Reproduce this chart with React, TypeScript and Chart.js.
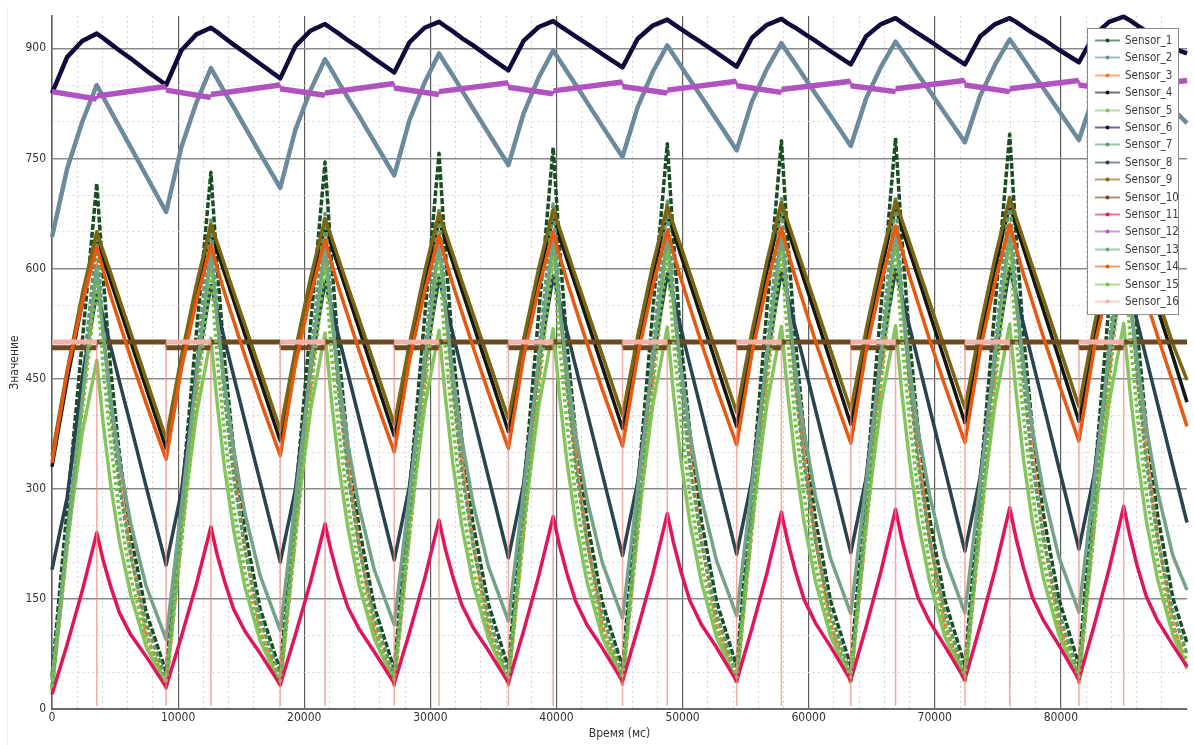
import React, { useEffect, useRef } from 'react';
import { Chart, registerables } from 'chart.js';

Chart.register(...registerables);

// Shared sampling times (ms): trough, 2 rise points, peak, 5 decay points per cycle
const TIME = [
  0, 1200, 2400, 3550, 4050, 4650, 5350, 6250, 7450,
  9050, 10250, 11450, 12600, 13100, 13700, 14400, 15300, 16500,
  18100, 19300, 20500, 21650, 22150, 22750, 23450, 24350, 25550,
  27140, 28340, 29540, 30690, 31190, 31790, 32490, 33390, 34590,
  36190, 37390, 38590, 39740, 40240, 40840, 41540, 42440, 43640,
  45240, 46440, 47640, 48790, 49290, 49890, 50590, 51490, 52690,
  54290, 55490, 56690, 57840, 58340, 58940, 59640, 60540, 61740,
  63340, 64540, 65740, 66890, 67390, 67990, 68690, 69590, 70790,
  72390, 73590, 74790, 75940, 76440, 77040, 77740, 78640, 79840,
  81430, 82630, 83830, 84980, 85480, 86080, 86780, 87680, 88880,
  90000,
];

const S1 = [
  45,273,501,716,590,463,346,236,133,
  50,282,513,731,602,473,354,242,137,
  52,288,523,745,614,482,361,247,140,
  54,293,532,757,624,491,368,252,144,
  56,297,538,765,630,496,372,255,145,
  57,299,542,770,635,499,375,257,147,
  58,301,545,774,638,502,377,258,147,
  58,303,548,778,641,505,379,260,149,
  59,305,551,783,646,508,382,262,150,
  60,307,554,786,648,510,383,263,151,
  90];
const S2 = [
  643,736,800,850,834,815,793,765,727,
  677,765,826,873,858,840,820,793,757,
  710,789,843,885,871,853,833,808,773,
  727,802,853,893,879,863,843,818,785,
  741,811,860,897,884,868,850,826,794,
  752,820,868,904,891,875,857,834,803,
  761,827,872,907,894,879,861,838,808,
  767,831,875,909,897,882,864,842,812,
  772,835,878,912,900,885,867,845,815,
  775,837,880,913,901,886,869,847,817,
  798];
const S3 = [
  25,222,419,605,518,420,322,213,103,
  28,229,431,620,532,431,331,219,107,
  30,233,437,628,539,437,336,223,110,
  32,237,442,635,545,442,340,226,111,
  33,239,446,640,549,446,343,228,113,
  34,242,449,645,554,450,346,230,114,
  35,243,452,648,556,452,348,231,115,
  35,244,453,650,558,454,349,233,116,
  36,245,455,652,560,455,350,233,116,
  36,246,456,654,561,456,351,234,116,
  55];
const S4 = [
  330,448,553,640,614,583,547,500,438,
  355,467,567,650,624,593,557,510,448,
  365,476,576,658,632,601,565,518,455,
  372,483,583,665,639,608,571,524,462,
  378,489,588,670,644,612,576,529,466,
  382,493,593,675,649,617,580,533,469,
  385,497,597,680,653,622,584,537,473,
  388,500,600,683,656,624,587,539,475,
  390,502,603,686,659,627,590,542,478,
  392,505,607,690,663,631,593,545,480,
  418];
const S5 = [
  25,228,376,475,390,306,228,155,86,
  30,244,401,505,416,326,244,166,93,
  34,249,407,512,422,331,248,169,96,
  36,252,410,516,425,334,250,171,97,
  37,253,412,518,427,336,252,172,98,
  38,255,414,520,428,337,253,173,98,
  38,255,415,521,429,338,254,174,99,
  39,256,416,522,430,339,254,174,99,
  39,257,417,524,432,340,255,176,101,
  40,258,418,525,433,341,256,176,101,
  55];
const S6 = [
  839,888,910,920,914,906,897,886,870,
  850,897,919,928,922,914,905,894,879,
  859,903,924,933,927,920,911,901,886,
  867,908,928,936,930,923,914,904,889,
  870,910,929,937,931,924,916,906,892,
  874,913,931,939,933,926,918,908,894,
  875,914,932,940,934,928,920,910,896,
  878,916,933,941,935,928,920,910,896,
  878,916,933,941,936,929,921,912,898,
  881,918,936,943,938,931,923,914,900,
  893];
const S7 = [
  30,237,445,640,520,406,304,208,118,
  40,253,466,666,541,423,317,217,123,
  42,257,472,675,549,429,321,220,125,
  43,260,478,682,554,433,325,223,127,
  44,263,482,688,559,437,328,225,129,
  45,265,485,692,563,440,330,227,130,
  46,267,487,695,565,442,332,228,130,
  46,268,489,698,568,444,333,229,132,
  47,269,491,700,569,445,334,230,132,
  47,270,492,702,571,447,335,230,132,
  75];
const S8 = [
  190,288,451,568,534,494,446,386,304,
  196,295,459,577,543,502,454,392,310,
  200,299,464,582,548,506,458,396,313,
  203,303,468,587,552,511,462,400,317,
  206,306,471,590,555,514,465,403,320,
  209,309,474,593,558,517,468,406,322,
  211,311,477,596,561,519,471,408,325,
  213,313,479,598,563,521,473,410,327,
  215,315,481,600,565,524,475,413,329,
  218,318,483,602,567,526,477,415,331,
  254];
const S9 = [
  345,461,565,650,624,594,558,512,450,
  368,479,578,660,635,604,568,523,462,
  380,489,587,668,643,612,576,531,470,
  388,497,595,675,650,619,583,538,477,
  395,503,600,680,655,624,588,543,482,
  400,508,605,685,659,629,593,547,486,
  404,513,610,690,664,633,597,551,489,
  407,515,612,692,666,636,600,554,492,
  410,519,616,696,670,639,603,557,495,
  412,521,619,700,674,643,606,560,497,
  448];
const S11 = [
  20,88,161,240,203,167,131,101,72,
  30,98,170,248,210,173,136,106,76,
  33,101,173,252,214,176,139,109,78,
  35,104,177,257,218,180,142,111,80,
  36,106,181,262,223,184,146,114,83,
  38,109,184,266,226,186,147,115,84,
  38,109,185,268,228,188,149,117,85,
  39,111,188,272,231,191,151,119,86,
  40,113,190,274,233,192,152,120,87,
  40,113,191,276,235,193,153,120,87,
  58];
const S13 = [
  40,230,421,600,512,423,337,252,168,
  95,274,453,621,531,441,354,266,182,
  107,285,463,630,540,450,362,275,190,
  115,292,469,636,546,455,368,280,195,
  120,297,474,640,550,459,372,284,199,
  124,300,477,643,553,462,375,287,202,
  127,303,480,646,556,465,378,290,205,
  130,306,482,648,558,467,379,291,206,
  131,307,484,650,559,469,381,293,207,
  132,309,486,652,561,471,383,295,209,
  162];
const S14 = [
  335,459,553,630,598,563,526,478,417,
  340,463,556,632,600,566,529,481,421,
  345,469,563,640,608,573,536,488,427,
  350,474,568,645,613,578,541,493,432,
  355,479,573,650,618,583,545,497,435,
  358,481,576,652,620,585,547,499,437,
  360,484,578,655,623,588,550,501,440,
  362,486,581,658,626,590,552,503,441,
  363,488,583,660,628,592,554,505,443,
  365,490,585,662,630,594,556,507,445,
  385];
const S15 = [
  30,217,404,580,466,362,267,179,98,
  35,225,416,595,478,372,275,186,102,
  38,231,424,605,486,379,280,190,105,
  40,234,429,612,492,384,284,192,107,
  41,237,433,618,497,388,287,195,108,
  42,239,436,622,500,390,289,196,110,
  43,241,439,625,503,392,290,197,110,
  43,242,441,628,505,394,292,199,111,
  44,243,442,630,507,396,293,199,111,
  44,244,444,632,509,397,294,200,112,
  65];

// Sensor_12: small saw-tooth with jumps at peaks and troughs
const S12_TIME = [0,3540,3560,9030, 9050,12590,12610,18080, 18100,21640,21660,27120, 27140,30680,30700,36170, 36190,39730,39750,45220, 45240,48780,48800,54270, 54290,57830,57850,63320, 63340,66880,66900,72370, 72390,75930,75950,81410, 81430,84970,84990,90000];
const S12 = [841,831,835,848, 843,833,837,850, 845,836,839,852, 846,837,841,853, 847,838,842,854, 848,839,843,855, 849,840,844,855, 849,841,845,856, 850,841,845,856, 850,842,846,856];

// Sensor_10 and Sensor_16: step signals switching at troughs and peaks
const STEP_TIME = [0, 3550,3550, 9050,9050, 12600,12600, 18100,18100, 21650,21650, 27140,27140, 30690,30690, 36190,36190, 39740,39740, 45240,45240, 48790,48790, 54290,54290, 57840,57840, 63340,63340, 66890,66890, 72390,72390, 75940,75940, 81430,81430, 84980,84980, 90000];
const S10 = [492, 492,500, 500,492, 492,500, 500,492, 492,500, 500,492, 492,500, 500,492, 492,500, 500,492, 492,500, 500,492, 492,500, 500,492, 492,500, 500,492, 492,500, 500,492, 492,500, 500];
const S16 = [500, 500,0, 0,500, 500,0, 0,500, 500,0, 0,500, 500,0, 0,500, 500,0, 0,500, 500,0, 0,500, 500,0, 0,500, 500,0, 0,500, 500,0, 0,500, 500,0, 0];

const LABELS = ['Sensor_1','Sensor_2','Sensor_3','Sensor_4','Sensor_5','Sensor_6','Sensor_7','Sensor_8','Sensor_9','Sensor_10','Sensor_11','Sensor_12','Sensor_13','Sensor_14','Sensor_15','Sensor_16'];
const COLORS = ['#1b4d23','#6b8a9c','#f07a35','#161610','#86c462','#0e0b3c','#5e9a6c','#27444f','#7a6512','#6b4a22','#e0155c','#b052c0','#73a386','#e8590f','#72c240','#f4b0a6'];
const WIDTHS = [3.5, 4.5, 3.5, 3.5, 3.5, 4.5, 3.5, 3.5, 3.5, 5, 3.5, 5.5, 3.5, 3.5, 3.5, 5];
const DASHES = [[6, 2], [], [5, 2], [], [], [], [5, 2], [], [], [], [], [], [], [], [3, 3], []];
const XS = [TIME, TIME, TIME, TIME, TIME, TIME, TIME, TIME, TIME, STEP_TIME, TIME, S12_TIME, TIME, TIME, TIME, STEP_TIME];
const YS = [S1, S2, S3, S4, S5, S6, S7, S8, S9, S10, S11, S12, S13, S14, S15, S16];

const FONT = "'Liberation Sans Narrow', 'DejaVu Sans Condensed', 'DejaVu Sans', sans-serif";

const boxLegend = {
  id: 'boxLegend',
  afterDraw(chart: any) {
    const { ctx, chartArea } = chart;
    const w = 91;
    const h = 286;
    const x0 = Math.round(chartArea.right - 9 - w);
    const y0 = Math.round(chartArea.top + 12);
    ctx.save();
    ctx.fillStyle = '#ffffff';
    ctx.fillRect(x0, y0, w, h);
    ctx.strokeStyle = '#8c8c8c';
    ctx.lineWidth = 1;
    ctx.strokeRect(x0 + 0.5, y0 + 0.5, w, h);
    ctx.font = `11.5px ${FONT}`;
    ctx.textBaseline = 'middle';
    ctx.textAlign = 'left';
    chart.data.datasets.forEach((ds: any, i: number) => {
      const cy = Math.round(y0 + 12 + i * 17.4) + 0.5;
      ctx.globalAlpha = 0.6;
      ctx.strokeStyle = ds.borderColor;
      ctx.lineWidth = 2;
      ctx.setLineDash([]);
      ctx.beginPath();
      ctx.moveTo(x0 + 8, cy);
      ctx.lineTo(x0 + 33, cy);
      ctx.stroke();
      ctx.globalAlpha = 1;
      ctx.fillStyle = ds.borderColor;
      ctx.beginPath();
      ctx.arc(x0 + 20.5, cy, 2, 0, Math.PI * 2);
      ctx.fill();
      ctx.fillStyle = '#3a3a3a';
      ctx.fillText(ds.label, x0 + 38, cy + 0.5);
    });
    ctx.restore();
  },
};

export default function App() {
  const ref = useRef<HTMLCanvasElement | null>(null);

  useEffect(() => {
    document.body.style.margin = '0';
    document.body.style.background = '#ffffff';
    if (!ref.current) return;
    const datasets = LABELS.map((label, i) => {
      const xs = XS[i];
      const ys = YS[i];
      const wide = WIDTHS[i];
      const isPink = i === 15;
      return {
        label,
        data: xs.map((x, j) => ({ x, y: ys[j] })),
        borderColor: COLORS[i],
        backgroundColor: COLORS[i],
        borderWidth: wide,
        borderDash: DASHES[i],
        borderJoinStyle: 'round',
        pointRadius: 0,
        tension: 0,
        fill: false,
        order: 16 - i,
        clip: isPink ? { left: 5, top: 5, right: 5, bottom: -3 } : 4,
        segment: {
          borderWidth: (c: any) => (Math.abs(c.p1.x - c.p0.x) < 1 ? 1.6 : wide),
          borderColor: (c: any) =>
            isPink && Math.abs(c.p1.x - c.p0.x) < 1 ? 'rgba(238,140,128,0.7)' : COLORS[i],
        },
      };
    });

    const isMajorY = (v: number) => v % 150 === 0;
    const isMajorX = (v: number) => v % 10000 === 0;

    const chart = new Chart(ref.current, {
      type: 'line',
      data: { datasets },
      plugins: [boxLegend],
      options: {
        animation: false,
        responsive: false,
        events: [],
        layout: { padding: { left: 8, top: 16, right: 7, bottom: 4 } },
        plugins: { legend: { display: false }, tooltip: { enabled: false } },
        scales: {
          x: {
            type: 'linear',
            min: 0,
            max: 90000,
            afterFit: (s: any) => { s.height = 32; },
            ticks: {
              stepSize: 2000,
              autoSkip: false,
              maxTicksLimit: 1000,
              includeBounds: false,
              maxRotation: 0,
              padding: 2,
              color: '#333333',
              font: { family: FONT, size: 12 },
              callback: (v: any) => (isMajorX(Number(v)) && Number(v) < 90000 ? String(v) : ''),
            },
            grid: {
              drawTicks: false,
              color: (c: any) => {
                if (!c.tick) return '#d4d4d4';
                if (c.tick.value >= 90000) return 'rgba(0,0,0,0)';
                return isMajorX(c.tick.value) ? '#5e5e5e' : '#d4d4d4';
              },
              lineWidth: (c: any) => (c.tick && isMajorX(c.tick.value) ? 1.2 : 1),
            },
            border: {
              display: true,
              color: '#6a6a6a',
              width: 2,
              dash: (c: any) => (c.tick && !isMajorX(c.tick.value) ? [2, 3] : []),
            },
            title: { display: true, text: 'Время (мс)', color: '#333333', font: { family: FONT, size: 12 }, padding: 0 },
          },
          y: {
            type: 'linear',
            min: 0,
            max: 944,
            afterFit: (s: any) => { s.width = 44; },
            ticks: {
              stepSize: 50,
              autoSkip: false,
              maxTicksLimit: 1000,
              includeBounds: false,
              padding: 6,
              color: '#333333',
              font: { family: FONT, size: 12 },
              callback: (v: any) => (isMajorY(Number(v)) ? String(v) : ''),
            },
            grid: {
              drawTicks: false,
              color: (c: any) => (c.tick && isMajorY(c.tick.value) ? '#8a8a8a' : '#d8d8d8'),
              lineWidth: (c: any) => (c.tick && isMajorY(c.tick.value) ? 1.5 : 1),
            },
            border: {
              display: true,
              color: '#5a5a5a',
              width: 1.5,
              dash: (c: any) => (c.tick && !isMajorY(c.tick.value) ? [2, 3] : []),
            },
            title: { display: true, text: 'Значение', color: '#333333', font: { family: FONT, size: 12 }, padding: 0 },
          },
        },
      } as any,
    });
    return () => chart.destroy();
  }, []);

  return (
    <div style={{ position: 'relative', width: 1194, height: 745, background: '#ffffff' }}>
      <div style={{ position: 'absolute', left: 7, top: 7, bottom: 0, width: 0, borderLeft: '1px solid #efefef' }} />
      <canvas ref={ref} width={1194} height={745} style={{ position: 'absolute', left: 0, top: 0 }} />
    </div>
  );
}
